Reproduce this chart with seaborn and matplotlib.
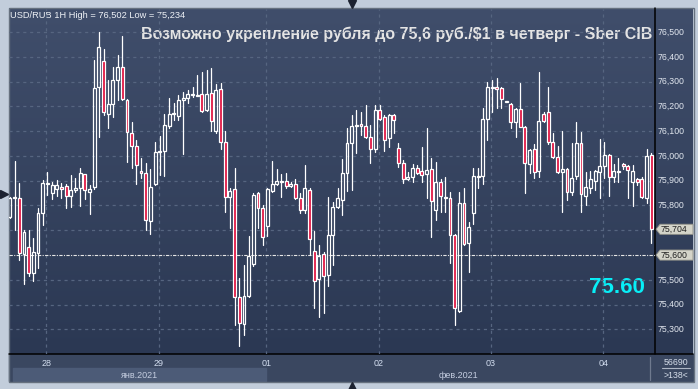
import numpy as np
import pandas as pd
import matplotlib
matplotlib.use("Agg")
import matplotlib.pyplot as plt
from matplotlib.colors import LinearSegmentedColormap
from matplotlib.patches import Rectangle, Polygon
import seaborn as sns

# ---------------- data (USD/RUB, 1H candles) ----------------
opens = [
    75.755, 75.829, 75.829, 75.603, 75.631, 75.526, 75.610, 75.768, 75.885, 75.849,
    75.865, 75.873, 75.877, 75.838, 75.862, 75.869, 75.926, 75.854, 75.876, 76.277,
    76.383, 76.168, 76.208, 76.305, 76.357, 76.224, 76.091, 76.040, 75.939, 75.930,
    75.737, 75.885, 76.017, 76.020, 76.119, 76.169, 76.162, 76.225, 76.232, 76.246,
    76.243, 76.248, 76.184, 76.256, 76.100, 76.270, 76.055, 75.833, 75.865, 75.429,
    75.322, 75.436, 75.562, 75.849, 75.791, 75.716, 75.860, 75.887, 75.896, 75.897,
    75.877, 75.885, 75.829, 75.782, 75.861, 75.618, 75.503, 75.603, 75.519, 75.679,
    75.795, 75.822, 75.930, 76.051, 76.121, 76.127, 76.121, 76.075, 76.030, 76.184,
    76.157, 76.071, 76.164, 76.034, 75.970, 75.907, 75.916, 75.950, 75.940, 75.926,
    75.946, 75.780, 75.895, 75.832, 75.832, 75.681, 75.374, 75.809, 75.647, 75.768,
    75.916, 75.920, 76.151, 76.275, 76.278, 76.273, 76.217, 76.208, 76.135, 76.188,
    76.118, 75.966, 76.028, 75.940, 76.170, 76.178, 76.057, 75.994, 75.936, 75.946,
    75.856, 75.920, 76.051, 75.838, 75.869, 75.899, 75.936, 75.958, 76.004, 75.916,
    75.935, 75.966, 75.959, 75.896, 75.907, 75.905, 75.829, 76.004,
]
highs = [
    75.835, 75.979, 75.889, 75.701, 75.701, 75.667, 75.788, 75.903, 75.936, 75.896,
    75.903, 75.889, 75.885, 75.923, 75.909, 75.950, 75.928, 75.883, 76.387, 76.502,
    76.431, 76.306, 76.360, 76.407, 76.485, 76.228, 76.138, 76.064, 75.993, 75.973,
    75.947, 76.057, 76.080, 76.168, 76.232, 76.212, 76.246, 76.259, 76.266, 76.279,
    76.326, 76.340, 76.346, 76.353, 76.289, 76.293, 76.100, 75.869, 75.950, 75.506,
    75.560, 75.677, 75.849, 75.856, 75.802, 75.869, 75.979, 75.947, 75.926, 75.930,
    75.896, 75.907, 75.849, 75.963, 75.869, 75.697, 75.640, 75.614, 75.834, 75.815,
    75.872, 75.986, 76.111, 76.165, 76.185, 76.178, 76.205, 76.125, 76.205, 76.205,
    76.165, 76.168, 76.168, 76.051, 75.983, 75.936, 75.966, 75.963, 76.037, 76.111,
    75.990, 75.977, 75.907, 75.916, 75.856, 75.683, 75.856, 75.869, 75.735, 75.952,
    75.952, 76.192, 76.299, 76.306, 76.316, 76.279, 76.221, 76.215, 76.192, 76.293,
    76.121, 76.030, 76.048, 76.337, 76.176, 76.279, 76.091, 76.040, 76.100, 75.950,
    76.051, 76.138, 76.098, 75.936, 75.940, 75.942, 76.067, 76.055, 76.006, 75.966,
    75.990, 75.973, 75.963, 75.963, 75.912, 75.916, 76.030, 76.010,
]
lows = [
    75.748, 75.701, 75.580, 75.482, 75.517, 75.497, 75.549, 75.721, 75.842, 75.826,
    75.839, 75.829, 75.791, 75.795, 75.856, 75.798, 75.826, 75.764, 75.866, 76.078,
    76.165, 76.111, 76.158, 76.225, 76.225, 75.974, 75.950, 75.885, 75.909, 75.701,
    75.685, 75.883, 75.923, 75.920, 76.114, 76.145, 76.145, 76.006, 76.212, 76.239,
    76.242, 76.176, 76.181, 76.100, 76.094, 76.030, 75.772, 75.708, 75.318, 75.234,
    75.277, 75.432, 75.557, 75.708, 75.640, 75.678, 75.856, 75.883, 75.835, 75.872,
    75.873, 75.825, 75.768, 75.768, 75.600, 75.385, 75.351, 75.365, 75.476, 75.560,
    75.791, 75.761, 75.858, 75.862, 76.010, 76.084, 76.071, 75.970, 76.017, 76.147,
    76.020, 76.037, 76.091, 75.956, 75.892, 75.903, 75.896, 75.926, 75.896, 75.832,
    75.671, 75.741, 75.775, 75.775, 75.566, 75.318, 75.369, 75.640, 75.530, 75.724,
    75.869, 75.885, 76.064, 76.176, 76.194, 76.194, 76.216, 76.114, 76.078, 76.115,
    75.849, 75.930, 75.909, 75.913, 76.135, 76.047, 75.990, 75.932, 75.772, 75.822,
    75.842, 75.905, 75.772, 75.802, 75.849, 75.862, 75.832, 75.912, 75.839, 75.896,
    75.896, 75.947, 75.832, 75.799, 75.883, 75.829, 75.809, 75.647,
]
closes = [
    75.829, 75.834, 75.607, 75.692, 75.526, 75.611, 75.768, 75.889, 75.889, 75.881,
    75.881, 75.866, 75.838, 75.862, 75.869, 75.930, 75.862, 75.866, 76.273, 76.438,
    76.176, 76.208, 76.305, 76.359, 76.229, 76.095, 76.040, 75.963, 75.932, 75.740,
    75.876, 76.017, 76.020, 76.125, 76.168, 76.172, 76.225, 76.232, 76.248, 76.248,
    76.246, 76.181, 76.248, 76.141, 76.268, 76.055, 75.835, 75.858, 75.432, 75.324,
    75.436, 75.596, 75.842, 75.788, 75.671, 75.865, 75.888, 75.899, 75.899, 75.878,
    75.885, 75.829, 75.782, 75.869, 75.663, 75.495, 75.595, 75.517, 75.679, 75.795,
    75.829, 75.931, 76.052, 76.121, 76.125, 76.121, 76.078, 76.030, 76.184, 76.151,
    76.064, 76.165, 76.147, 75.970, 75.907, 75.916, 75.950, 75.930, 75.923, 75.942,
    75.819, 75.895, 75.837, 75.835, 75.681, 75.385, 75.809, 75.643, 75.714, 75.920,
    75.920, 76.151, 76.279, 76.279, 76.270, 76.228, 76.220, 76.135, 76.189, 76.118,
    75.970, 76.025, 75.936, 76.142, 76.141, 76.057, 75.994, 75.936, 75.946, 75.856,
    75.911, 76.051, 75.845, 75.873, 75.905, 75.940, 75.958, 76.004, 75.916, 75.940,
    75.940, 75.959, 75.943, 75.940, 75.896, 75.833, 76.000, 75.704,
]

price_ticks = [76.5, 76.4, 76.3, 76.2, 76.1, 76.0, 75.9, 75.8, 75.5, 75.4, 75.3]
grid_levels = [76.5, 76.4, 76.3, 76.2, 76.1, 76.0, 75.9, 75.8, 75.7, 75.5, 75.4, 75.3]
day_pos = [7.75, 31.75, 54.75, 78.75, 102.75, 126.75]
day_labels = ["28", "29", "01", "02", "03", "04"]
month_labels = ["янв.2021", "фев.2021"]
month_pos = [27.7, 95.8]
target_level = 75.6
last_price = 75.704
title = "Возможно укрепление рубля до 75,6 руб./$1 в четверг - Sber CIB"
header = "USD/RUB 1H High = 76,502 Low = 75,234"
big_label = "75.60"

# ---------------- frame ----------------
df = pd.DataFrame({"open": opens, "high": highs, "low": lows, "close": closes})
df["idx"] = np.arange(len(df))
df["up"] = df["close"] >= df["open"]
df["b_lo"] = df[["open", "close"]].min(axis=1)
df["b_hi"] = df[["open", "close"]].max(axis=1)

sns.set_style("dark")
plt.rcParams["font.family"] = ["Liberation Sans", "DejaVu Sans"]

W, H = 698, 389
fig = plt.figure(figsize=(W / 100, H / 100), dpi=100)
fig.patch.set_facecolor("#c2cddb")

# pixel canvas for decoration
cv = fig.add_axes([0, 0, 1, 1])
cmap = LinearSegmentedColormap.from_list("panel", ["#404e6b", "#2b3853"])
cv.imshow(np.linspace(0, 1, 256).reshape(-1, 1), cmap=cmap, aspect="auto",
          extent=[9, 693, 354, 8], zorder=0)
cv.add_patch(Rectangle((9, 354), 684, 27, color="#3a4760", zorder=1))
cv.add_patch(Rectangle((13, 368), 253, 12.5, color="#4c5b77", zorder=2))
cv.add_patch(Rectangle((8.5, 7.5), 685, 374, fill=False, ec="#66717f", lw=1, zorder=3))
cv.plot([655, 655], [8, 354], color="black", lw=1.1, zorder=4)
cv.plot([9, 693], [354, 354], color="black", lw=1.1, zorder=4)
cv.plot([650, 650], [357, 380], color="#6f7a8e", lw=0.9, zorder=4)
cv.plot([662, 690], [368, 368], color="#aeb7c6", lw=0.8, zorder=4)
cv.plot([352], [3.5], marker="v", ms=5.5, color="#1c2230", clip_on=False, zorder=5)
cv.plot([352], [385.5], marker="^", ms=5.5, color="#1c2230", clip_on=False, zorder=5)
cv.plot([4], [194], marker=">", ms=5.5, color="#1c2230", clip_on=False, zorder=5)
cv.text(676, 365, "56690", ha="center", va="baseline", fontsize=6.3, color="#d6deea", zorder=5)
cv.text(676, 378, ">138<", ha="center", va="baseline", fontsize=6.3, color="#d6deea", zorder=5)
cv.set_xlim(0, W)
cv.set_ylim(H, 0)
cv.set_axis_off()

# ---------------- main chart ----------------
ax = fig.add_axes([9 / W, 1 - 354 / H, 646 / W, 345 / H], zorder=10)
ax.set_facecolor("none")
ax.set_xlim(-0.2, 137.8)
ax.set_ylim(75.2007, 76.593)

for v in grid_levels:
    ax.axhline(v, color="#566580", lw=0.9, ls=(0, (2.5, 3)), zorder=1)
for d in day_pos:
    ax.axvline(d, color="#566580", lw=0.9, ls=(0, (2.5, 3)), zorder=1)
ax.axhline(target_level, color="#e8e8e8", lw=0.8, ls=(0, (3, 1.2, 1, 1.2)), zorder=2)

# wicks via seaborn (each wick segment is its own unit)
seg = []
for r in df.itertuples():
    seg.append((r.idx, r.high, 2 * r.idx))
    seg.append((r.idx, r.b_hi, 2 * r.idx))
    seg.append((r.idx, r.b_lo, 2 * r.idx + 1))
    seg.append((r.idx, r.low, 2 * r.idx + 1))
wick = pd.DataFrame(seg, columns=["idx", "price", "unit"])
sns.lineplot(data=wick, x="idx", y="price", units="unit", estimator=None,
             sort=False, color="white", lw=0.9, ax=ax, zorder=3, legend=False)

heights = np.maximum(df["b_hi"] - df["b_lo"], 0.0015)
fcs = ["none" if u else "#e0123f" for u in df["up"]]
ax.bar(df["idx"], heights, bottom=df["b_lo"], width=0.62, facecolor=fcs,
       edgecolor="white", linewidth=0.9, zorder=4)

ax.set_xlabel("")
ax.set_ylabel("")
ax.set_xticks([])
ax.set_yticks([])
for s in ax.spines.values():
    s.set_visible(False)

def axx(px):
    return (px - 9) / 646.0

ytr = ax.get_yaxis_transform()
xtr = ax.get_xaxis_transform()
for v in price_ticks:
    ax.text(axx(658), v, f"{v:.3f}".replace(".", ","), transform=ytr, ha="left",
            va="center", fontsize=6.3, color="#e2e7ef", clip_on=False)

for v, lab in [(last_price, "75,704"), (target_level, "75,600")]:
    dv = 0.0205
    poly = Polygon([(axx(656), v), (axx(660), v + dv), (axx(693), v + dv),
                    (axx(693), v - dv), (axx(660), v - dv)], closed=True,
                   transform=ytr, fc="#d4d4c9", ec="#8f8f86", lw=0.6, clip_on=False, zorder=6)
    ax.add_patch(poly)
    ax.text(axx(661), v, lab, transform=ytr, ha="left", va="center", fontsize=6.3,
            color="#1e1e1e", clip_on=False, zorder=7)

for d, lab in zip(day_pos, day_labels):
    ax.text(d, -(366 - 354) / 345, lab, transform=xtr, ha="center", va="baseline",
            fontsize=6.5, color="#d2ddef", clip_on=False)
for m, lab in zip(month_pos, month_labels):
    ax.text(m, -(378 - 354) / 345, lab, transform=xtr, ha="center", va="baseline",
            fontsize=6.5, color="#c4cde0", clip_on=False)

# texts
fig.text(10 / W, 1 - 18.3 / H, header, ha="left", va="baseline", fontsize=6.7, color="#eef1f6")
fig.text(652 / W, 1 - 39.5 / H, title, ha="right", va="baseline", fontsize=11.5,
         fontweight="bold", color="#e4e4e4")
fig.text(645 / W, 1 - 293.3 / H, big_label, ha="right", va="baseline", fontsize=16,
         fontweight="bold", color="#08eef6")

fig.savefig("out.png", dpi=100, facecolor=fig.get_facecolor())
